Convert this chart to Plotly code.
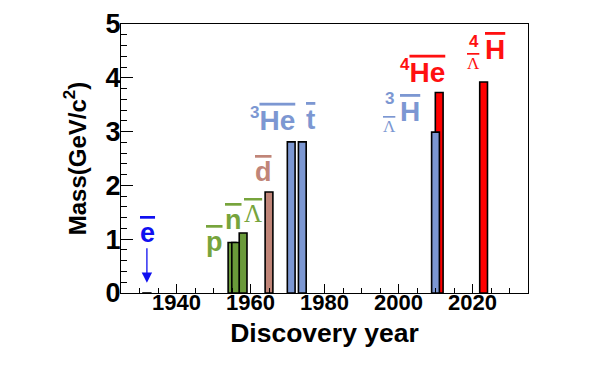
import plotly.graph_objects as go

# ---- data ----
particles = ["e", "p", "n", "Λ", "d", "3He", "t", "4He", "3ΛH", "4ΛH"]
years = [1932, 1955, 1956, 1958, 1965, 1971, 1974, 2011, 2010, 2023]
masses = [0.000511, 0.938, 0.940, 1.116, 1.876, 2.809, 2.809, 3.727, 2.991, 3.922]
groups = ["e", "g", "g", "g", "d", "b", "b", "r", "b", "r"]

x_ticks = [1940, 1960, 1980, 2000, 2020]
y_ticks = [0, 1, 2, 3, 4, 5]

bar_colors = {"e": "#0000ff", "g": "#6a9a3a", "d": "#c08578", "b": "#7c97d2", "r": "#ff0000"}
text_colors = {"e": "#1010f0", "g": "#77a43c", "d": "#c08578", "b": "#7c97d2", "r": "#ff1010"}

fig = go.Figure()
for yr, m, g in zip(years, masses, groups):
    fig.add_trace(go.Bar(
        x=[yr], y=[m], width=2.1,
        marker=dict(color=bar_colors[g], line=dict(color="black", width=1.6)),
        showlegend=False,
    ))

OL = '<span style="text-decoration:overline;text-decoration-thickness:1px">{}</span>'
SUP = '<sup><span style="font-size:17px"><b>{}</b></span></sup>'
FONT = "Liberation Sans, Arial, sans-serif"
SERIF = "Liberation Serif, Times New Roman, serif"

labels = [
    # text, x, y, group, size, font
    (OL.format("<b>e</b>"), 1932.2, 1.115, "e", 27, FONT),
    (OL.format("<b>p</b>"), 1950.4, 0.95, "g", 27, FONT),
    (OL.format("<b>n</b>"), 1955.4, 1.36, "g", 27, FONT),
    (OL.format("Λ"), 1960.7, 1.47, "g", 25, SERIF),
    (OL.format("<b>d</b>"), 1963.6, 2.25, "d", 27, FONT),
    (SUP.format("3") + OL.format("<b>He</b>"), 1965.9, 3.23, "b", 28, FONT),
    (OL.format("<b>t</b>"), 1976.2, 3.23, "b", 28, FONT),
    (SUP.format("4") + OL.format("<b>He</b>"), 2006.6, 4.11, "r", 28, FONT),
    (OL.format("<b>H</b>"), 2003.2, 3.38, "b", 28, FONT),
    (OL.format("<b>H</b>"), 2026.1, 4.52, "r", 28, FONT),
]
for t, x, y, g, s, f in labels:
    fig.add_annotation(x=x, y=y, text=t, showarrow=False,
                       font=dict(color=text_colors[g], size=s, family=f))

# stacked super/sub scripts for hypernuclei
stacks = [("3", "Λ", 1997.7, 3.61, 3.1, "b"), ("4", "Λ", 2020.4, 4.68, 4.26, "r")]
for sup, sub, x, ys, yb, g in stacks:
    fig.add_annotation(x=x, y=ys, text="<b>" + sup + "</b>", showarrow=False,
                       font=dict(color=text_colors[g], size=17, family=FONT))
    fig.add_annotation(x=x, y=yb, text=OL.format(sub), showarrow=False,
                       font=dict(color=text_colors[g], size=17, family=SERIF))

# arrow for the positron
fig.add_annotation(x=1932, y=0.19, ax=1932, ay=0.86, axref="x", ayref="y",
                   xref="x", yref="y", text="", showarrow=True,
                   arrowcolor="#1010f0", arrowwidth=1.3, arrowhead=2, arrowsize=1.6)

fig.update_layout(
    width=584, height=364,
    margin=dict(l=113, r=64, t=16, b=79),
    plot_bgcolor="white", paper_bgcolor="white",
    barmode="overlay",
    font=dict(family=FONT, color="black"),
)
fig.update_xaxes(
    range=[1925, 2035], tickvals=x_ticks, ticktext=[f"<b>{v}</b>" for v in x_ticks],
    tickfont=dict(size=22), ticks="inside", ticklen=9, tickcolor="black",
    ticklabelstandoff=-11, automargin=False,
    minor=dict(dtick=5, tick0=1925, ticks="inside", ticklen=5, tickcolor="black"),
    showgrid=False, zeroline=False, showline=True, linecolor="black", linewidth=1.2,
    mirror=True, title=dict(text="<b>Discovery year</b>", font=dict(size=26.5), standoff=9),
)
fig.update_yaxes(
    range=[0, 5], tickvals=y_ticks, ticktext=[f"<b>{v}</b>" for v in y_ticks],
    tickfont=dict(size=27), ticks="inside", ticklen=12, tickcolor="black",
    ticklabelstandoff=-6, automargin=False,
    minor=dict(dtick=0.2, ticks="inside", ticklen=6, tickcolor="black"),
    showgrid=False, zeroline=False, showline=True, linecolor="black", linewidth=1.2,
    mirror=True, title=dict(text="<b>Mass(GeV/c<sup>2</sup>)</b>", font=dict(size=24), standoff=12),
)

fig.write_html("out.html")
